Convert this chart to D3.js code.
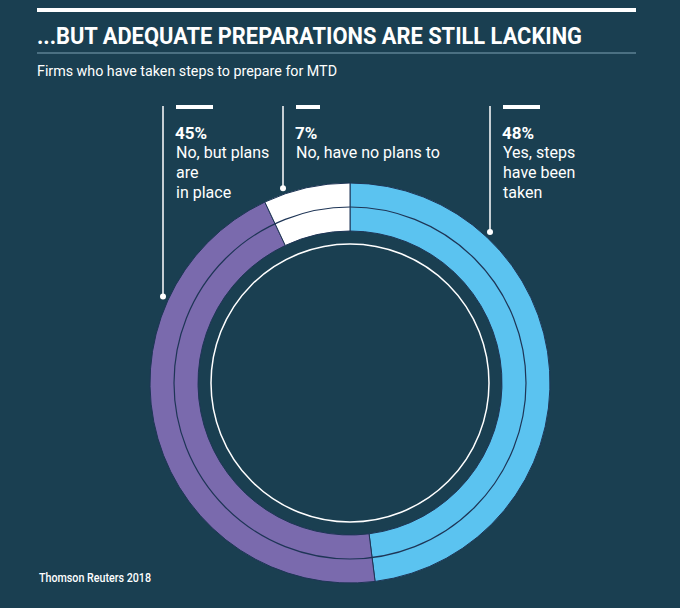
<!DOCTYPE html>
<html>
<head>
<meta charset="utf-8">
<script src="https://cdn.jsdelivr.net/npm/d3@7"></script>
<style>
  html, body { margin: 0; padding: 0; background: #1a3f51; }
  svg { display: block; }
</style>
</head>
<body>
<script>
// data
let categories = ["Yes, steps have been taken", "No, but plans are in place", "No, have no plans to"];
let values = [48, 45, 7];
let labelLines = [["Yes, steps", "have been", "taken"], ["No, but plans", "are", "in place"], ["No, have no plans to"]];
let colors = ["#5bc3f0", "#7a6aad", "#ffffff"];

let title = "...BUT ADEQUATE PREPARATIONS ARE STILL LACKING";
let subtitle = "Firms who have taken steps to prepare for MTD";
let source = "Thomson Reuters 2018";

let width = 680;
let height = 608;
let cx = 350, cy = 383;
let outerR = 200, innerR = 152, midR = 176, guideR = 139, dotR = 206;

// where each leader line sits, in the same order as the data
let leaderX = [490, 163, 283];
let barW = [37, 37, 24];

let svg = d3.select("body").append("svg").attr("width", width).attr("height", height);
svg.append("rect").attr("width", width).attr("height", height).attr("fill", "#1a3f51");

// header
svg.append("rect").attr("x", 37).attr("y", 8).attr("width", 599).attr("height", 4).attr("fill", "#ffffff");
svg.append("text")
    .attr("x", 37).attr("y", 44)
    .attr("textLength", 545).attr("lengthAdjust", "spacingAndGlyphs")
    .style("font-family", "Roboto, 'DejaVu Sans', sans-serif")
    .style("font-weight", "bold").style("font-size", "23px")
    .attr("fill", "#ffffff").text(title);
svg.append("line").attr("x1", 37).attr("x2", 636).attr("y1", 53).attr("y2", 53)
    .attr("stroke", "#7da2b4").attr("stroke-width", 1);
svg.append("text")
    .attr("x", 37).attr("y", 76)
    .attr("textLength", 300).attr("lengthAdjust", "spacingAndGlyphs")
    .style("font-family", "Roboto, sans-serif").style("font-size", "14px")
    .attr("fill", "#ffffff").text(subtitle);

// donut
let pie = d3.pie().sort(null).value((d) => d);
let arcs = pie(values);
let arc = d3.arc().innerRadius(innerR).outerRadius(outerR);

let ring = svg.append("g").attr("transform", `translate(${cx},${cy})`);
ring.selectAll("path.slice").data(arcs).enter().append("path")
    .attr("class", "slice")
    .attr("d", arc)
    .attr("fill", (d, i) => colors[i])
    .attr("stroke", "#1e3556").attr("stroke-width", 1);
ring.append("circle").attr("r", midR).attr("fill", "none")
    .attr("stroke", "#1e3556").attr("stroke-width", 1.2);
ring.append("circle").attr("r", guideR).attr("fill", "none")
    .attr("stroke", "#ffffff").attr("stroke-width", 1.5);

// labels
let labels = svg.append("g");
values.forEach((v, i) => {
    let x = leaderX[i];
    let dx = x - cx;
    let dotY = cy - Math.sqrt(dotR * dotR - dx * dx);
    let g = labels.append("g");
    g.append("line").attr("x1", x).attr("x2", x).attr("y1", 106).attr("y2", dotY)
        .attr("stroke", "#ffffff").attr("stroke-width", 1.5);
    g.append("circle").attr("cx", x).attr("cy", dotY).attr("r", 3).attr("fill", "#ffffff");
    g.append("rect").attr("x", x + 13).attr("y", 105).attr("width", barW[i]).attr("height", 4).attr("fill", "#ffffff");
    g.append("text").attr("x", x + 12).attr("y", 139)
        .style("font-family", "Roboto, sans-serif").style("font-weight", "bold").style("font-size", "17px")
        .attr("fill", "#ffffff").text(`${v}%`);
    labelLines[i].forEach((line, j) => {
        g.append("text").attr("x", x + 13).attr("y", 158 + j * 20)
            .style("font-family", "Roboto, sans-serif").style("font-size", "16px")
            .attr("fill", "#ffffff").text(line);
    });
});

// source
svg.append("text")
    .attr("x", 39).attr("y", 582)
    .attr("textLength", 112).attr("lengthAdjust", "spacingAndGlyphs")
    .style("font-family", "Roboto, sans-serif").style("font-weight", "500").style("font-size", "12px")
    .attr("fill", "#ffffff").text(source);
</script>
</body>
</html>
